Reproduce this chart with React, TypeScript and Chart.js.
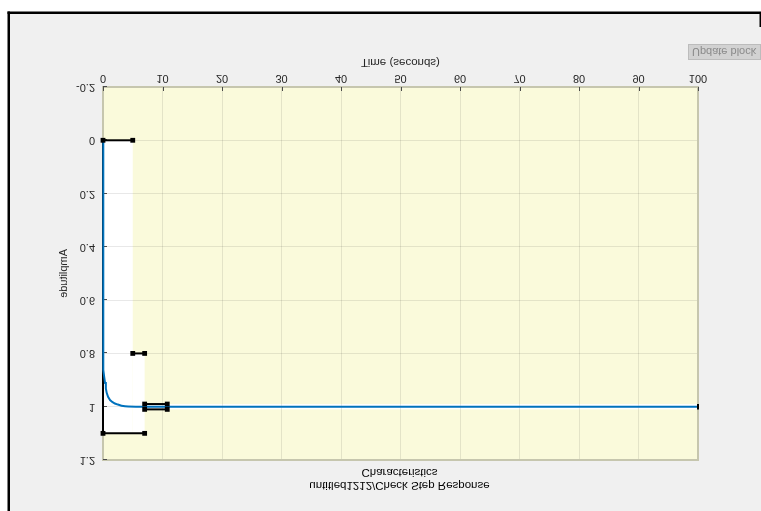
import { useEffect, useRef } from "react";
import { Chart, registerables } from "chart.js";

Chart.register(...registerables);

const W = 761;
const H = 511;
const FONT = '"Liberation Sans", Arial, Helvetica, sans-serif';

// Axis ticks
const xTicks = [0, 10, 20, 30, 40, 50, 60, 70, 80, 90, 100];
const yTicks = [-0.2, 0, 0.2, 0.4, 0.6, 0.8, 1, 1.2];

// Simulated step response
const responseTime = [0, 0, 0.1, 0.2, 0.34, 0.48, 0.62, 0.85, 1.18, 1.55, 2.0, 2.5, 3.1, 3.7, 4.25, 5.5, 100];
const responseAmp = [0, 0.855, 0.862, 0.888, 0.911, 0.931, 0.948, 0.963, 0.975, 0.982, 0.988, 0.992, 0.996, 0.998, 0.999, 1, 1];

// Allowed (white) regions of the step-response bounds
const allowedStart = [0, 5, 7];
const allowedEnd = [5, 7, 100];
const allowedLow = [0, 0.8, 0.99];
const allowedHigh = [1.1, 1.1, 1.01];

// Bound edges
const undershootT = [0, 5];
const undershootY = [0, 0];
const riseT = [5, 7];
const riseY = [0.8, 0.8];
const overshootT = [0, 7];
const overshootY = [1.1, 1.1];
const settleT = [7, 10.8];
const settleLowY = [0.99, 0.99];
const settleHighY = [1.01, 1.01];
const settleEndT = [100, 100];
const settleEndY = [0.99, 1.01];
const axisEdgeT = [0, 0];
const axisEdgeY = [0, 1.1];

const titleLines = ["untitled1212/Check Step Response", "Characteristics"];

const pts = (t: number[], y: number[]) => t.map((v, i) => ({ x: v, y: y[i] }));

const edge = (t: number[], y: number[], order: number, radius = 3.4) => ({
  data: pts(t, y),
  borderColor: "#000000",
  backgroundColor: "#000000",
  borderWidth: 2,
  pointStyle: "rect" as const,
  pointRadius: radius,
  pointBorderWidth: 0,
  tension: 0,
  clip: false as const,
  order,
});

const framePlugin = {
  id: "frame",
  beforeDraw(chart: any) {
    const { ctx, chartArea: a, scales } = chart;
    const x = scales.x;
    const y = scales.y;
    ctx.save();
    ctx.fillStyle = "#ffffff";
    ctx.fillRect(0, 0, W, H);
    ctx.fillStyle = "#f0f0f0";
    ctx.fillRect(10, 0, W - 10, 497);
    ctx.fillStyle = "#000000";
    ctx.fillRect(7.5, 0, 2.5, 499.5);
    ctx.fillRect(7.5, 497, W - 7.5, 2.5);
    ctx.fillRect(759.5, 484, 1.5, 13);
    // forbidden area
    ctx.fillStyle = "#fafadb";
    ctx.fillRect(a.left, a.top, a.right - a.left, a.bottom - a.top);
    // allowed regions
    ctx.fillStyle = "#ffffff";
    for (let i = 0; i < allowedStart.length; i++) {
      const l = x.getPixelForValue(allowedStart[i]);
      const r = x.getPixelForValue(allowedEnd[i]);
      const t = y.getPixelForValue(allowedHigh[i]);
      const b = y.getPixelForValue(allowedLow[i]);
      ctx.fillRect(l, t, r - l, b - t);
    }
    ctx.restore();
  },
  beforeDatasetsDraw(chart: any) {
    const { ctx, chartArea: a, scales } = chart;
    const x = scales.x;
    const y = scales.y;
    ctx.save();
    // box
    ctx.strokeStyle = "#c6c6ae";
    ctx.lineWidth = 2;
    ctx.strokeRect(a.left, a.top, a.right - a.left, a.bottom - a.top);
    // inward tick marks
    ctx.strokeStyle = "#4a4a4a";
    ctx.lineWidth = 1;
    ctx.beginPath();
    for (const v of yTicks) {
      const py = Math.round(y.getPixelForValue(v)) + 0.5;
      ctx.moveTo(a.left, py);
      ctx.lineTo(a.left + 4, py);
    }
    for (const v of xTicks) {
      const px = Math.round(x.getPixelForValue(v)) + 0.5;
      ctx.moveTo(px, a.bottom);
      ctx.lineTo(px, a.bottom - 4);
    }
    ctx.stroke();
    ctx.restore();
  },
  afterDraw(chart: any) {
    const { ctx, chartArea: a } = chart;
    ctx.save();
    ctx.fillStyle = "#000000";
    ctx.font = `11.5px ${FONT}`;
    ctx.textAlign = "center";
    ctx.textBaseline = "middle";
    const cx = (a.left + a.right) / 2 - 1;
    ctx.fillText(titleLines[0], cx, 26);
    ctx.fillText(titleLines[1], cx, 38.7);
    ctx.restore();
  },
};

export default function App() {
  const canvasRef = useRef<HTMLCanvasElement | null>(null);

  useEffect(() => {
    const canvas = canvasRef.current;
    if (!canvas) return;
    const tickFont = { family: FONT, size: 11 };
    const chart = new Chart(canvas, {
      type: "line",
      data: {
        datasets: [
          edge(undershootT, undershootY, 0),
          edge(riseT, riseY, 0),
          edge(overshootT, overshootY, 0),
          edge(settleT, settleLowY, 0),
          edge(settleT, settleHighY, 0),
          edge(settleEndT, settleEndY, 0, 0),
          {
            data: pts(responseTime, responseAmp),
            borderColor: "#0072bd",
            borderWidth: 2,
            pointRadius: 0,
            tension: 0,
            clip: false as const,
            order: 1,
          },
          edge(axisEdgeT, axisEdgeY, 2, 0),
        ] as any,
      },
      options: {
        responsive: false,
        animation: false,
        devicePixelRatio: 1,
        events: [],
        layout: { padding: { left: 0, top: 51, right: 63, bottom: 0 } },
        plugins: {
          legend: { display: false },
          title: { display: false },
          tooltip: { enabled: false },
        },
        scales: {
          x: {
            type: "linear",
            position: "bottom",
            min: 0,
            max: 100,
            afterBuildTicks: (s: any) => {
              s.ticks = xTicks.map((v) => ({ value: v }));
            },
            afterFit: (s: any) => {
              s.height = 87;
            },
            ticks: {
              font: tickFont,
              color: "#262626",
              padding: 2,
              maxRotation: 0,
              autoSkip: false,
              callback: (v: any) => String(v),
            },
            grid: { color: "rgba(0,0,0,0.09)", drawTicks: false, lineWidth: 1 },
            border: { display: false },
            title: {
              display: true,
              text: "Time (seconds)",
              font: { family: FONT, size: 11.5 },
              color: "#262626",
              padding: { top: 0, bottom: 55 },
            },
          },
          y: {
            type: "linear",
            min: -0.2,
            max: 1.2,
            afterBuildTicks: (s: any) => {
              s.ticks = yTicks.map((v) => ({ value: v }));
            },
            afterFit: (s: any) => {
              s.width = 103;
            },
            ticks: {
              font: tickFont,
              color: "#262626",
              padding: 8,
              callback: (v: any) => String(Math.round(Number(v) * 10) / 10),
            },
            grid: { color: "rgba(0,0,0,0.09)", drawTicks: false, lineWidth: 1 },
            border: { display: false },
            title: {
              display: true,
              text: "Amplitude",
              font: { family: FONT, size: 11 },
              color: "#262626",
              padding: { top: 57, bottom: 0 },
            },
          },
        },
      } as any,
      plugins: [framePlugin],
    });
    return () => chart.destroy();
  }, []);

  return (
    <div
      style={{
        position: "absolute",
        left: 0,
        top: 0,
        width: W,
        height: H,
        overflow: "hidden",
        transform: "scaleY(-1)",
        transformOrigin: "50% 50%",
      }}
    >
      <canvas ref={canvasRef} width={W} height={H} style={{ display: "block", width: W, height: H }} />
      <div
        style={{
          position: "absolute",
          left: 688,
          top: 451,
          width: 73,
          height: 16,
          boxSizing: "border-box",
          background: "#d2d2d2",
          border: "1px solid #bcbcbc",
          color: "#8a8a8a",
          font: `11px ${FONT}`,
          lineHeight: "14px",
          paddingLeft: 3,
          whiteSpace: "nowrap",
          overflow: "hidden",
        }}
      >
        Update block
      </div>
    </div>
  );
}
